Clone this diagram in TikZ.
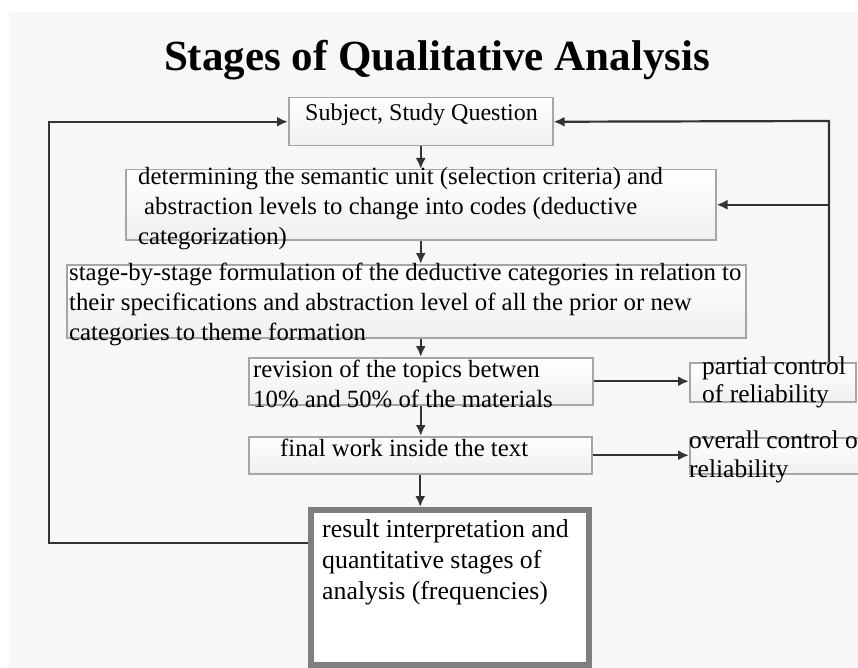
\documentclass[tikz,border=0pt]{standalone}
\usepackage{fontspec}
\setmainfont{Liberation Serif}
\newfontfamily\stagefont{Liberation Serif}
\usetikzlibrary{positioning, arrows.meta}
\definecolor{pagegray}{HTML}{F7F7F7}
\definecolor{boxgray}{HTML}{A6A6A6}
\definecolor{linegray}{HTML}{333333}
\definecolor{resgray}{HTML}{7F7F7F}

\tikzset{
  stagebox/.style={draw=boxgray, line width=1.5pt, top color=white, bottom color=gray!12, inner sep=0pt, anchor=north west},
  stagetext/.style={font=\stagefont\fontsize{24.8}{30}\selectfont, align=left, anchor=base west, inner sep=0pt},
  link/.style={draw=linegray, line width=2.2pt, -{Latex[length=11pt,width=10pt]}},
}

\begin{document}
\begin{tikzpicture}[x=1pt, y=-1pt]
  \useasboundingbox (0,0) rectangle (858,668);
  \fill[pagegray] (9,12) rectangle (858,668);

  \node[font=\stagefont\bfseries\fontsize{43}{50}\selectfont, anchor=base] (title) at (437,71) {Stages of Qualitative Analysis};

  \node[stagebox, minimum width=264pt, minimum height=48pt] (subj) at (288,97) {};
  \node[stagebox, minimum width=590pt, minimum height=70pt] (sem) at (125,169) {};
  \node[stagebox, minimum width=679pt, minimum height=73pt] (form) at (66,264) {};
  \node[stagebox, minimum width=344pt, minimum height=47pt] (rev) at (248,357) {};
  \node[stagebox, minimum width=343pt, minimum height=37pt] (fin) at (248,436) {};
  \node[stagebox, minimum width=166pt, minimum height=39pt] (part) at (689,362) {};
  \node[stagebox, minimum width=169pt, minimum height=36pt] (over) at (689,437) {};
  \node[stagebox, draw=resgray, line width=6pt, top color=white, bottom color=white, minimum width=278pt, minimum height=155pt] (res) at (308,507) {};

  \node[stagetext, font=\stagefont\fontsize{24}{30}\selectfont] (subjtxt) at (305,121) {Subject, Study Question};
  \node[stagetext] (semtxt) at (138,244) {determining the semantic unit (selection criteria) and\\\hspace{6pt}abstraction levels to change into codes (deductive\\categorization)};
  \node[stagetext] (formtxt) at (69,340) {stage-by-stage formulation of the deductive categories in relation to\\their specifications and abstraction level of all the prior or new\\categories to theme formation};
  \node[stagetext] (revtxt) at (253,407) {revision of the topics betwen\\10\% and 50\% of the materials};
  \node[stagetext] (fintxt) at (280,456) {final work inside the text};
  \node[stagetext, font=\stagefont\fontsize{25.5}{28}\selectfont] (parttxt) at (702,402) {partial control\\of reliability};
  \node[stagetext, font=\stagefont\fontsize{25.5}{29}\selectfont] (overtxt) at (689,477) {overall control of\\reliability};
  \node[stagetext, font=\stagefont\fontsize{25.8}{31}\selectfont] (restxt) at (322,599) {result interpretation and\\quantitative stages of\\analysis (frequencies)};

  \coordinate (rtop) at (829,121);
  \coordinate (lbot) at (49,543);

  \draw[link] (subj.south) -- (subj.south |- sem.north);
  \draw[link] (sem.south) -- (sem.south |- form.north);
  \draw[link] (form.south -| rev.north) -- (rev.north);
  \draw[link] (rev.south) -- (rev.south |- fin.north);
  \draw[link] (fin.south) -- (fin.south |- res.north);
  \draw[link] (rev.east) -- (rev.east -| part.west);
  \draw[link] (fin.east) -- (fin.east -| over.west);
  \draw[link] (part.north -| rtop) -- (rtop) -- (subj.east);
  \draw[link] (sem.east -| rtop) -- (sem.east);
  \draw[link] (res.west |- lbot) -- (lbot) |- (subj.west);
\end{tikzpicture}
\end{document}
